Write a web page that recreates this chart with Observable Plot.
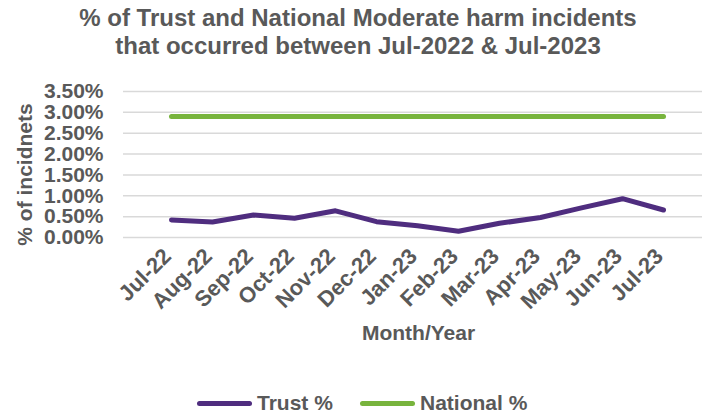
<!DOCTYPE html>
<html>
<head>
<meta charset="utf-8">
<script src="https://cdn.jsdelivr.net/npm/d3@7"></script>
<script src="https://cdn.jsdelivr.net/npm/@observablehq/plot@0.6"></script>
<style>
  html, body { margin: 0; padding: 0; background: #fff; }
  #wrap { position: relative; width: 702px; height: 418px; overflow: hidden;
          font-family: "Liberation Sans", Arial, sans-serif; font-weight: bold; color: #595959; }
  #title { position: absolute; left: 0; top: 4px; width: 702px; padding-left: 14px; box-sizing: border-box;
           text-align: center; font-size: 24px; line-height: 28px; }
  #chart { position: absolute; left: 0; top: 68px; }
  .leg { position: absolute; top: 391px; height: 24px; display: flex; align-items: center; font-size: 21px; }
  .sw { width: 55px; height: 5px; border-radius: 3px; margin-right: 5px; }
</style>
</head>
<body>
<div id="wrap">
  <div id="title">% of Trust and National Moderate harm incidents<br>that occurred between Jul-2022 &amp; Jul-2023</div>
  <div id="chart"></div>
  <div class="leg" style="left:197px"><div class="sw" style="background:#4f2d7f"></div>Trust %</div>
  <div class="leg" style="left:360px"><div class="sw" style="background:#78b43d"></div>National %</div>
</div>
<script>
const months = ["Jul-22","Aug-22","Sep-22","Oct-22","Nov-22","Dec-22","Jan-23","Feb-23","Mar-23","Apr-23","May-23","Jun-23","Jul-23"];
const trustPct = [0.42, 0.37, 0.54, 0.46, 0.64, 0.38, 0.28, 0.15, 0.34, 0.48, 0.71, 0.93, 0.66];
const nationalPct = [2.9, 2.9, 2.9, 2.9, 2.9, 2.9, 2.9, 2.9, 2.9, 2.9, 2.9, 2.9, 2.9];
const yTicks = [0, 0.5, 1, 1.5, 2, 2.5, 3, 3.5];

const trust = months.map((m, i) => ({month: m, value: trustPct[i]}));
const national = months.map((m, i) => ({month: m, value: nationalPct[i]}));

const chart = Plot.plot({
  width: 702,
  height: 290,
  marginLeft: 123,
  marginRight: 0,
  marginTop: 23,
  marginBottom: 121,
  style: {fontFamily: "'Liberation Sans', Arial, sans-serif", fontWeight: "bold", color: "#595959", background: "transparent", overflow: "visible"},
  x: {type: "point", domain: months, range: [146.5, 688], axis: null},
  y: {domain: [0, 3.5]},
  marks: [
    Plot.gridY(yTicks, {stroke: "#d9d9d9", strokeOpacity: 1, strokeWidth: 1.5}),
    Plot.axisY(yTicks, {tickSize: 0, tickPadding: 20, fontSize: 21, fill: "#595959",
      tickFormat: d => d.toFixed(2) + "%", label: null}),
    Plot.text(months, {x: d => d, frameAnchor: "bottom", lineAnchor: "middle", rotate: -45, textAnchor: "end",
      dx: -4, dy: 15, fontSize: 22, fill: "#595959"}),
    Plot.lineY(national, {x: "month", y: "value", stroke: "#78b43d", strokeWidth: 5, strokeLinecap: "round"}),
    Plot.lineY(trust, {x: "month", y: "value", stroke: "#4f2d7f", strokeWidth: 5, strokeLinecap: "round", strokeLinejoin: "round"}),
    Plot.text(["% of incidnets"], {frameAnchor: "left", textAnchor: "middle", dx: -98, dy: 10, rotate: -90, fontSize: 21, fill: "#595959"}),
    Plot.text(["Month/Year"], {frameAnchor: "bottom", dx: 5.5, dy: 102, fontSize: 21, fill: "#595959"})
  ]
});
document.getElementById("chart").appendChild(chart);
</script>
</body>
</html>
